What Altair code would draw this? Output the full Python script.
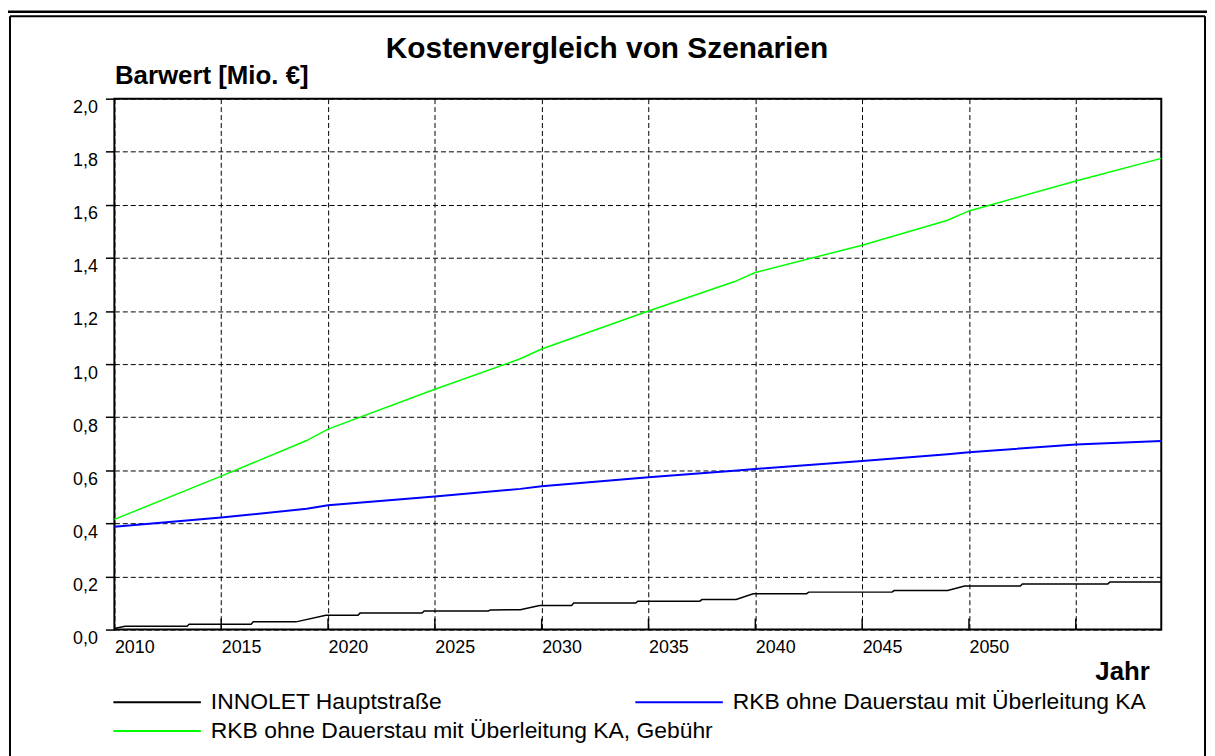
import altair as alt
import pandas as pd

# ---------------- data ----------------
name_black = "INNOLET Hauptstraße"
name_blue = "RKB ohne Dauerstau mit Überleitung KA"
name_green = "RKB ohne Dauerstau mit Überleitung KA, Gebühr"

black_years = [2010.0, 2010.5, 2013.4, 2013.5, 2016.4, 2016.5, 2018.5, 2019.9, 2021.4, 2021.5,
               2024.4, 2024.5, 2027.5, 2027.6, 2029.0, 2029.9, 2031.4, 2031.5, 2034.4, 2034.5,
               2037.4, 2037.5, 2039.1, 2039.9, 2042.4, 2042.5, 2046.4, 2046.5, 2049.0, 2049.8,
               2052.4, 2052.5, 2056.5, 2056.6, 2059.0]
black_values = [0.004, 0.012, 0.012, 0.020, 0.020, 0.029, 0.029, 0.054, 0.054, 0.062,
                0.062, 0.070, 0.070, 0.074, 0.075, 0.091, 0.091, 0.100, 0.100, 0.107,
                0.107, 0.113, 0.113, 0.135, 0.135, 0.141, 0.141, 0.147, 0.147, 0.164,
                0.164, 0.172, 0.172, 0.179, 0.179]

blue_years = [2010, 2015, 2019, 2020, 2025, 2029, 2030, 2035, 2039, 2040, 2045, 2049, 2050, 2055, 2059]
blue_values = [0.387, 0.422, 0.455, 0.468, 0.501, 0.530, 0.540, 0.574, 0.598, 0.605, 0.635, 0.660,
               0.668, 0.697, 0.710]

green_years = [2010, 2015, 2019, 2020, 2025, 2029, 2030, 2035, 2039, 2040, 2045, 2049, 2050, 2055, 2059]
green_values = [0.415, 0.578, 0.712, 0.755, 0.905, 1.020, 1.057, 1.200, 1.310, 1.345, 1.448, 1.542,
                1.577, 1.690, 1.775]

x_tick_years = [2010, 2015, 2020, 2025, 2030, 2035, 2040, 2045, 2050, 2055]
y_tick_values = [0.0, 0.2, 0.4, 0.6, 0.8, 1.0, 1.2, 1.4, 1.6, 1.8, 2.0]


def frame(name, yrs, vals):
    return pd.DataFrame({"Jahr": yrs, "Barwert": vals, "Szenario": name,
                         "idx": list(range(len(yrs)))})


df_left = pd.concat([frame(name_black, black_years, black_values),
                     frame(name_green, green_years, green_values)], ignore_index=True)
df_right = frame(name_blue, blue_years, blue_values)

# ---------------- layout ----------------
W, H = 1053, 534
FONT = "Liberation Sans"

x_scale = alt.Scale(domain=[2010, 2059], nice=False, zero=False)
y_scale = alt.Scale(domain=[0, 2], nice=False, zero=True)


def legend_at(x):
    return alt.Legend(title=None, orient="none", legendX=x, legendY=595,
                      direction="vertical", rowPadding=5, padding=0,
                      symbolType="M-1,0H7", symbolSize=484, symbolStrokeWidth=2,
                      labelFont=FONT, labelFontSize=23, labelColor="black",
                      labelOffset=75, labelLimit=900)


lines_left = alt.Chart(df_left).mark_line(strokeWidth=1.5).encode(
    x=alt.X("Jahr:Q", scale=x_scale, axis=alt.Axis(
        values=x_tick_years, format="d",
        labelExpr="datum.value >= 2055 ? '' : datum.label",
        labelAlign="left", labelBaseline="top", labelPadding=9, labelFontSize=18,
        labelFont=FONT, labelColor="black", labelFlush=False, labelOverlap=False,
        ticks=False, domain=False,
        grid=True, gridColor="black", gridDash=[5, 3], gridWidth=1, gridOpacity=1,
        title="Jahr", titleFont=FONT, titleFontSize=26, titleFontWeight="bold",
        titleColor="black", titleX=W - 12, titleY=50, titleAlign="right",
        titleBaseline="alphabetic")),
    y=alt.Y("Barwert:Q", scale=y_scale, axis=alt.Axis(
        values=y_tick_values,
        labelExpr="replace(format(datum.value, '.1f'), '.', ',')",
        labelAlign="right", labelBaseline="top", labelPadding=8, labelFontSize=18,
        labelFont=FONT, labelColor="black", labelFlush=False, labelOverlap=False,
        ticks=True, tickSize=9, tickWidth=1.5, tickColor="black", domain=False,
        grid=True, gridColor="black", gridDash=[5, 3], gridWidth=1, gridOpacity=1,
        title="Barwert [Mio. €]", titleFont=FONT, titleFontSize=26, titleFontWeight="bold",
        titleColor="black", titleAngle=0, titleX=0, titleY=-15, titleAlign="left",
        titleBaseline="alphabetic")),
    color=alt.Color("Szenario:N",
                    scale=alt.Scale(domain=[name_black, name_green],
                                    range=["#000000", "#00ff00"]),
                    legend=legend_at(-2)),
    order=alt.Order("idx:Q"),
)

lines_right = alt.Chart(df_right).mark_line(strokeWidth=2).encode(
    x=alt.X("Jahr:Q", scale=x_scale),
    y=alt.Y("Barwert:Q", scale=y_scale),
    color=alt.Color("Szenario:N",
                    scale=alt.Scale(domain=[name_blue], range=["#0000ff"]),
                    legend=legend_at(523)),
    order=alt.Order("idx:Q"),
)

inner_ticks = alt.Chart(pd.DataFrame({"Jahr": x_tick_years[1:]})).mark_rule(
    color="black", strokeWidth=1.5).encode(
    x=alt.X("Jahr:Q", scale=x_scale),
    y=alt.value(H), y2=alt.value(H - 11),
)

one = pd.DataFrame({"k": [0]})
top_bar = alt.Chart(one).mark_rule(color="black", strokeWidth=2.5).encode(
    x=alt.value(-107), x2=alt.value(1099), y=alt.value(-87.5))
box_top = alt.Chart(one).mark_rule(color="black", strokeWidth=2).encode(
    x=alt.value(-105), x2=alt.value(1097), y=alt.value(-83))
box_left = alt.Chart(one).mark_rule(color="black", strokeWidth=2).encode(
    x=alt.value(-105), y=alt.value(-83), y2=alt.value(670))
box_right = alt.Chart(one).mark_rule(color="black", strokeWidth=2).encode(
    x=alt.value(1097), y=alt.value(-83), y2=alt.value(670))

chart = alt.layer(top_bar, box_top, box_left, box_right, lines_left, lines_right,
                  inner_ticks).resolve_scale(color="independent").properties(
    width=W, height=H,
    title=alt.TitleParams("Kostenvergleich von Szenarien", font=FONT, fontSize=30,
                          fontWeight="bold", color="black", anchor="middle",
                          frame="group", dx=-31, dy=84, offset=6, baseline="alphabetic"),
    padding={"left": 107, "top": 89, "right": 46, "bottom": 125},
    autosize=alt.AutoSizeParams(type="none"),
).configure(background="white", font=FONT).configure_view(stroke="black", strokeWidth=2)

chart.save("out.html", embed_options={"renderer": "svg", "actions": False})
